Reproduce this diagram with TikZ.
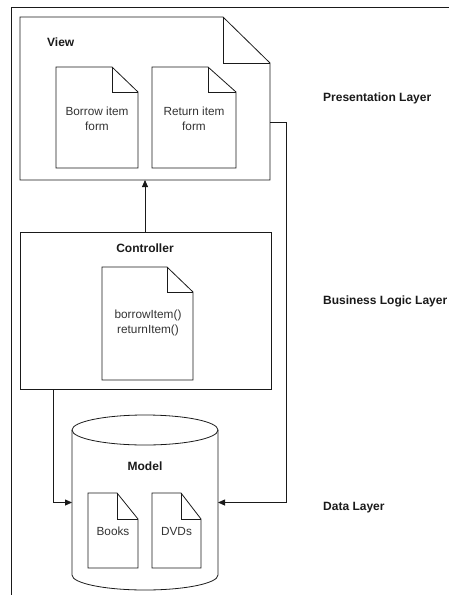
\documentclass[tikz,border=0pt]{standalone}
\usepackage{fontspec}
\setmainfont{Liberation Sans}
\usetikzlibrary{arrows.meta}
\definecolor{ink}{HTML}{1A1A1A}
\definecolor{txt}{HTML}{333333}
\tikzset{
  ln/.style={draw=ink, line width=0.8pt},
  boxnode/.style={draw=none, inner sep=0pt, outer sep=0pt},
  frame/.style={ln, inner sep=0pt, outer sep=0pt},
  arr/.style={ln, -{Triangle[length=7pt,width=6pt]}},
  lbl/.style={font=\fontsize{12}{14}\selectfont\bfseries, text=ink, inner sep=0pt},
  body/.style={font=\fontsize{11.8}{15.5}\selectfont, text=txt, align=center, inner sep=0pt},
}
\newcommand{\docoutline}[3]{%
  \draw[ln, line join=miter] (#1.north west) -- ([xshift=-#2]#1.north east) -- ([yshift=-#3]#1.north east) -- (#1.south east) -- (#1.south west) -- cycle;
  \draw[ln] ([xshift=-#2]#1.north east) |- ([yshift=-#3]#1.north east);}
\begin{document}
\begin{tikzpicture}[x=1pt,y=-1pt]
\useasboundingbox (0,0) rectangle (449,595);
% outer frame
\coordinate (ftr) at (449,7);
\coordinate (ftl) at (11,7);
\coordinate (fbl) at (11,595);
\draw[ln] (ftr) -- (ftl) -- (fbl);
% View
\node[boxnode, minimum width=250pt, minimum height=163pt] (view) at (145,98.5) {};
\docoutline{view}{47pt}{46pt}
\node[lbl, anchor=west] (viewlbl) at (47,42) {View};
\node[boxnode, minimum width=82pt, minimum height=101pt] (borrow) at (97,117.5) {};
\docoutline{borrow}{26pt}{25pt}
\node[body] (borrowtxt) at (97,119) {Borrow item\\form};
\node[boxnode, minimum width=84pt, minimum height=101pt] (return) at (194,117.5) {};
\docoutline{return}{28pt}{25pt}
\node[body] (returntxt) at (194,119) {Return item\\form};
% Controller
\node[frame, minimum width=251pt, minimum height=157pt] (ctrl) at (145.5,310.5) {};
\node[lbl] (ctrllbl) at (145,248) {Controller};
\node[boxnode, minimum width=91pt, minimum height=113pt] (cdoc) at (147.5,323.5) {};
\docoutline{cdoc}{26pt}{25pt}
\node[body] (cdoctxt) at (148,323) {borrowItem()\\returnItem()};
% Model cylinder
\node[boxnode, minimum width=146pt, minimum height=145pt] (db) at (145,502.5) {};
\draw[ln] (db.north west) -- (db.south west) arc[start angle=180, end angle=360, x radius=73pt, y radius=15pt] -- (db.north east);
\draw[ln] (db.north) ellipse [x radius=73pt, y radius=15pt];
\node[lbl] (modellbl) at (145,466) {Model};
\node[boxnode, minimum width=50pt, minimum height=75pt] (books) at (113,530.5) {};
\docoutline{books}{21pt}{26pt}
\node[body] (bookstxt) at (113,531) {Books};
\node[boxnode, minimum width=49pt, minimum height=75pt] (dvds) at (176.5,530.5) {};
\docoutline{dvds}{20pt}{26pt}
\node[body] (dvdstxt) at (176.5,531) {DVDs};
% connectors
\draw[arr] (ctrl.north -| view.south) -- (view.south);
\draw[arr] ([xshift=33pt]ctrl.south west) |- (db.west);
\draw[arr] ([yshift=-23.5pt]view.east) -- ++(16pt,0) |- (db.east);
% layer labels
\node[lbl, anchor=west] (pres) at (323,98) {Presentation Layer};
\node[lbl, anchor=west] (biz) at (323,301) {Business Logic Layer};
\node[lbl, anchor=west] (data) at (323,508) {Data Layer};
\end{tikzpicture}
\end{document}
